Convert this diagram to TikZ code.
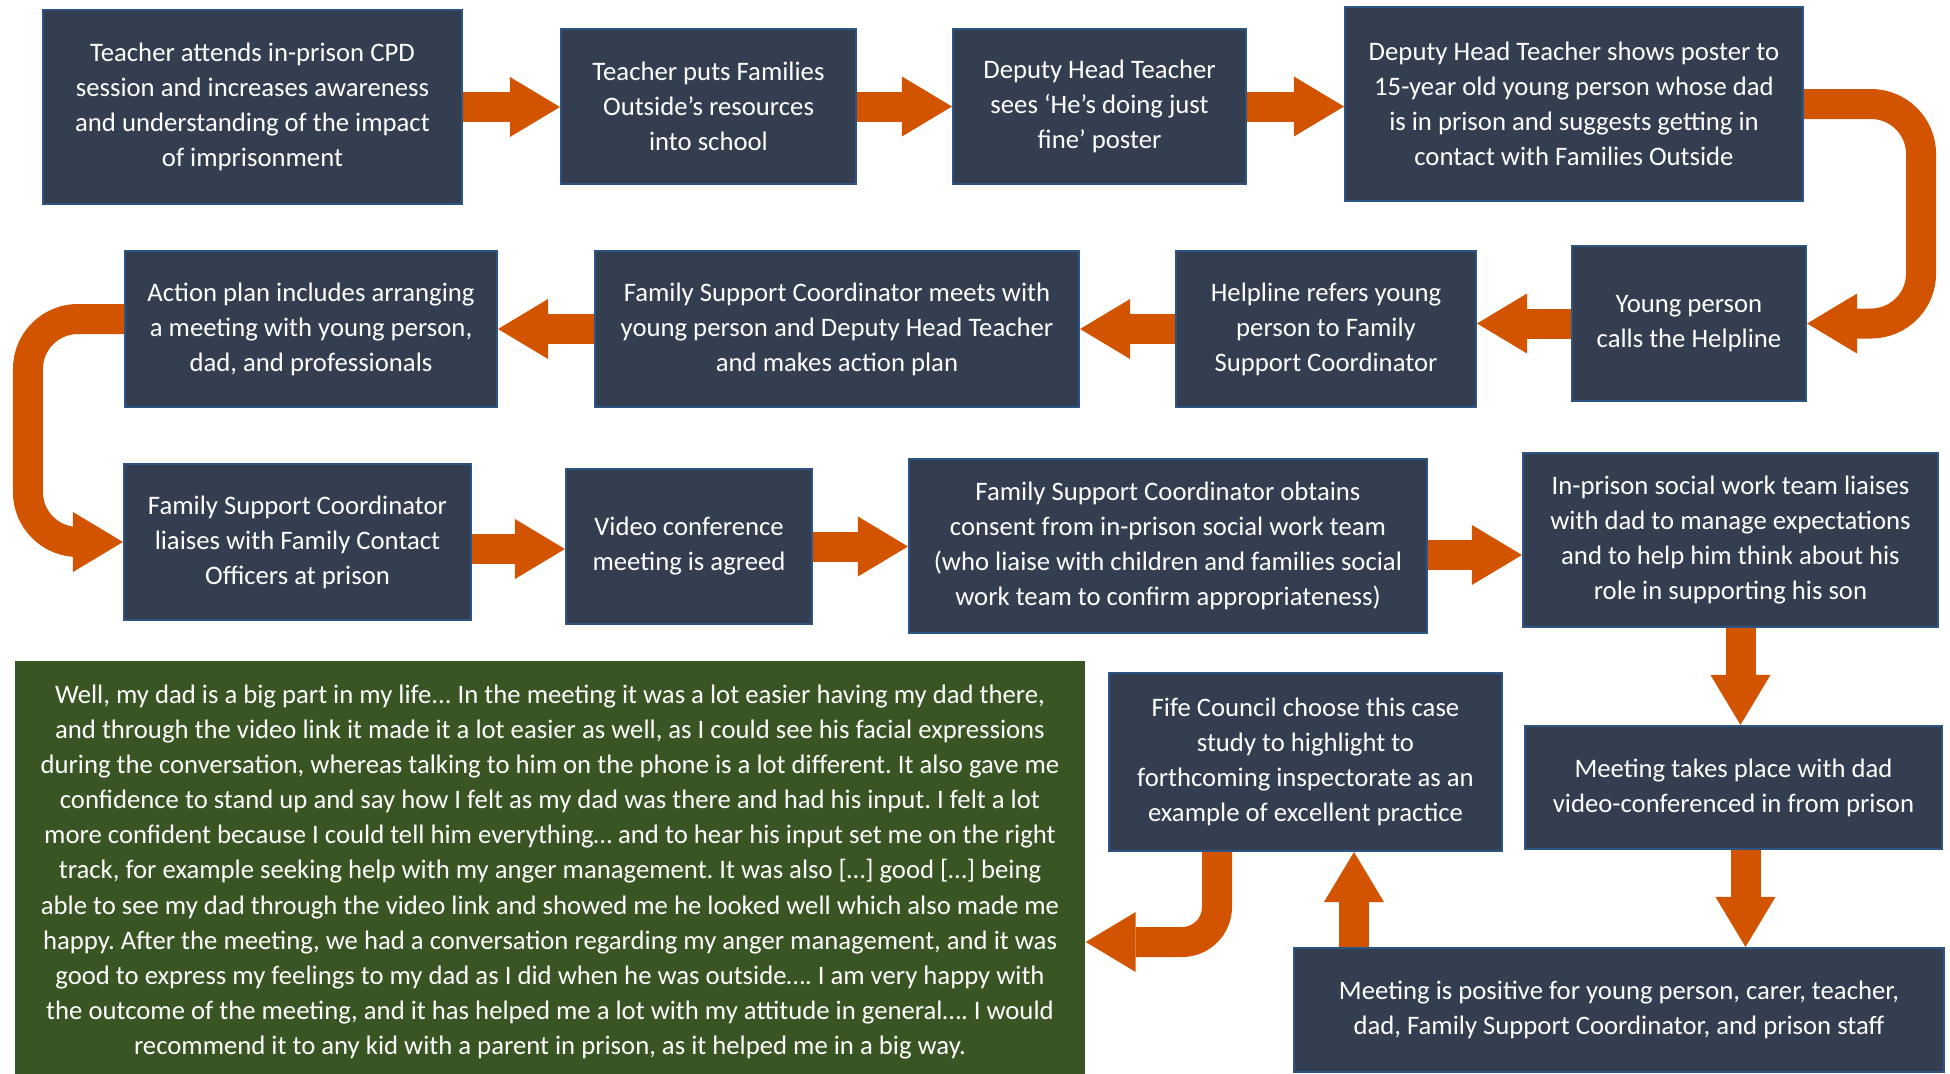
\documentclass[tikz,border=0pt]{standalone}
\usepackage{fontspec}
\setmainfont{Carlito}
\usetikzlibrary{arrows.meta}
\definecolor{boxc}{HTML}{333F50}
\definecolor{edgec}{HTML}{2E5484}
\definecolor{arrowc}{HTML}{D25400}
\definecolor{quotec}{HTML}{3A5524}
\frenchspacing
\begin{document}
\begin{tikzpicture}[
  box/.style={fill=boxc,draw=edgec,line width=0.6pt,text=white,align=center,
    inner sep=0pt,font=\fontsize{7.6}{9.96}\selectfont},
  quote/.style={fill=quotec,text=white,align=center,inner sep=0pt,
    font=\fontsize{7.6}{9.96}\selectfont},
  flow/.style={draw=arrowc,line width=3mm,
    -{Triangle[length=5mm,width=6mm,line width=0pt]}},
  turn/.style={flow,rounded corners=5mm}]
\useasboundingbox (0,0) rectangle (19.5,-10.73);
% first row
\node[box,minimum width=4.19cm,minimum height=1.94cm] (b1) at (2.525,-1.07)
  {Teacher attends in-prison CPD\\session and increases awareness\\and understanding of the impact\\of imprisonment};
\node[box,minimum width=2.95cm,minimum height=1.55cm] (b2) at (7.085,-1.065)
  {Teacher puts Families\\Outside’s resources\\into school};
\node[box,minimum width=2.93cm,minimum height=1.55cm] (b3) at (10.995,-1.065)
  {Deputy Head Teacher\\sees ‘He’s doing just\\fine’ poster};
\node[box,minimum width=4.58cm,minimum height=1.94cm] (b4) at (15.74,-1.04)
  {Deputy Head Teacher shows poster to\\15-year old young person whose dad\\is in prison and suggests getting in\\contact with Families Outside};
% second row
\node[box,minimum width=2.34cm,minimum height=1.55cm] (b5) at (16.89,-3.235)
  {Young person\\calls the Helpline};
\node[box,minimum width=3.00cm,minimum height=1.56cm] (b6) at (13.26,-3.29)
  {Helpline refers young\\person to Family\\Support Coordinator};
\node[box,minimum width=4.84cm,minimum height=1.56cm] (b7) at (8.37,-3.29)
  {Family Support Coordinator meets with\\young person and Deputy Head Teacher\\and makes action plan};
\node[box,minimum width=3.72cm,minimum height=1.56cm] (b8) at (3.11,-3.29)
  {Action plan includes arranging\\a meeting with young person,\\dad, and professionals};
% third row
\node[box,minimum width=3.47cm,minimum height=1.56cm] (b9) at (2.975,-5.42)
  {Family Support Coordinator\\liaises with Family Contact\\Officers at prison};
\node[box,minimum width=2.46cm,minimum height=1.55cm] (b10) at (6.89,-5.465)
  {Video conference\\meeting is agreed};
\node[box,minimum width=5.18cm,minimum height=1.74cm] (b11) at (11.68,-5.46)
  {Family Support Coordinator obtains\\consent from in-prison social work team\\(who liaise with children and families social\\work team to confirm appropriateness)};
\node[box,minimum width=4.15cm,minimum height=1.74cm] (b12) at (17.305,-5.40)
  {In-prison social work team liaises\\with dad to manage expectations\\and to help him think about his\\role in supporting his son};
% last row
\node[quote,minimum width=10.70cm,minimum height=4.22cm] (young) at (5.50,-8.72)
  {Well, my dad is a big part in my life... In the meeting it was a lot easier having my dad there,\\
   and through the video link it made it a lot easier as well, as I could see his facial expressions\\
   during the conversation, whereas talking to him on the phone is a lot different. It also gave me\\
   confidence to stand up and say how I felt as my dad was there and had his input. I felt a lot\\
   more confident because I could tell him everything… and to hear his input set me on the right\\
   track, for example seeking help with my anger management. It was also […] good […] being\\
   able to see my dad through the video link and showed me he looked well which also made me\\
   happy. After the meeting, we had a conversation regarding my anger management, and it was\\
   good to express my feelings to my dad as I did when he was outside…. I am very happy with\\
   the outcome of the meeting, and it has helped me a lot with my attitude in general…. I would\\
   recommend it to any kid with a parent in prison, as it helped me in a big way.};
\node[box,minimum width=3.93cm,minimum height=1.78cm] (b13) at (13.055,-7.62)
  {Fife Council choose this case\\study to highlight to\\forthcoming inspectorate as an\\example of excellent practice};
\node[box,minimum width=4.17cm,minimum height=1.23cm] (b14) at (17.335,-7.875)
  {Meeting takes place with dad\\video-conferenced in from prison};
\node[box,minimum width=6.50cm,minimum height=1.24cm] (b15) at (16.19,-10.10)
  {Meeting is positive for young person, carer, teacher,\\dad, Family Support Coordinator, and prison staff};
% arrows
\draw[flow] (b1.east) -- (b1.east -| b2.west);
\draw[flow] (b2.east) -- (b2.east -| b3.west);
\draw[flow] (b3.east) -- (b3.east -| b4.west);
\draw[turn] (b4.east) -- ++(1.17,0) |- (b5.east);
\draw[flow] (b5.west) -- (b5.west -| b6.east);
\draw[flow] (b6.west) -- (b6.west -| b7.east);
\draw[flow] (b7.west) -- (b7.west -| b8.east);
\draw[turn] ([yshift=1mm]b8.west) -- ++(-0.96,0) |- (b9.west);
\draw[flow] ([yshift=-0.7mm]b9.east) -- ([yshift=-0.7mm]b9.east -| b10.west);
\draw[flow] (b10.east) -- (b10.east -| b11.west);
\draw[flow] ([yshift=-0.9mm]b11.east) -- ([yshift=-0.9mm]b11.east -| b12.west);
\draw[flow] ([xshift=1mm]b12.south) -- ([xshift=1mm]b12.south |- b14.north);
\draw[flow] ([xshift=1.2mm]b14.south) -- ([xshift=1.2mm]b14.south |- b15.north);
\draw[flow] ([xshift=-2.65cm]b15.north) -- ([xshift=-2.65cm]b15.north |- b13.south);
\draw[flow,rounded corners=3.5mm] ([xshift=-0.885cm]b13.south) |- ([yshift=-0.7cm]young.east);
\end{tikzpicture}
\end{document}
